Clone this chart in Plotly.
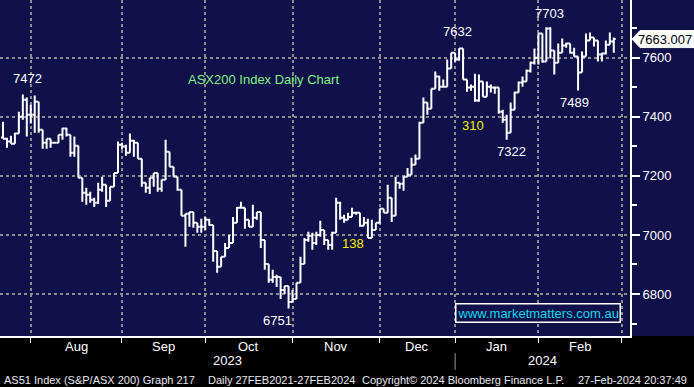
import pandas as pd
import plotly.graph_objects as go

# ---- data (ASX200 daily OHLC) ----
holidays = ["2023-12-25", "2023-12-26", "2024-01-01", "2024-01-26"]
all_days = pd.bdate_range("2023-07-21", "2024-03-01")
trade_days = [d for d in all_days if d.strftime("%Y-%m-%d") not in holidays]

opens = [7330, 7326, 7316, 7309, 7343, 7400, 7458, 7407, 7407, 7451,
         7356, 7312, 7326, 7312, 7312, 7339, 7360, 7339, 7278, 7302,
         7194, 7143, 7136, 7119, 7109, 7153, 7170, 7116, 7163, 7210,
         7305, 7299, 7278, 7319, 7312, 7258, 7177, 7160, 7194, 7210,
         7156, 7187, 7282, 7231, 7197, 7153, 7065, 7072, 7078, 7041,
         7028, 7028, 7051, 7034, 6946, 6892, 6926, 6956, 6973, 7041,
         7092, 7092, 7051, 7028, 7058, 7078, 6983, 6902, 6848, 6858,
         6858, 6814, 6827, 6773, 6783, 6838, 6902, 6983, 6997, 6973,
         7000, 7017, 6983, 6966, 7007, 7109, 7058, 7051, 7061, 7075,
         7075, 7031, 7041, 6990, 7017, 7041, 7089, 7075, 7126, 7065,
         7177, 7173, 7197, 7204, 7238, 7258, 7380, 7448, 7427, 7495,
         7536, 7502, 7502, 7563, 7617, 7594, 7631, 7526, 7499, 7502,
         7455, 7519, 7468, 7502, 7499, 7499, 7417, 7390, 7346, 7424,
         7482, 7516, 7519, 7556, 7583, 7600, 7682, 7587, 7699, 7624,
         7583, 7617, 7641, 7648, 7617, 7604, 7550, 7604, 7658, 7668,
         7658, 7611, 7614, 7644, 7655]
highs = [7383, 7329, 7336, 7346, 7417, 7475, 7465, 7441, 7472, 7451,
         7356, 7326, 7326, 7313, 7339, 7363, 7363, 7339, 7333, 7302,
         7194, 7160, 7146, 7126, 7177, 7197, 7170, 7163, 7210, 7316,
         7312, 7305, 7343, 7322, 7312, 7258, 7177, 7194, 7210, 7210,
         7187, 7322, 7282, 7231, 7197, 7153, 7072, 7078, 7078, 7041,
         7055, 7061, 7055, 7034, 6946, 6926, 6973, 7000, 7061, 7095,
         7112, 7092, 7051, 7102, 7078, 7078, 6983, 6902, 6882, 6865,
         6858, 6827, 6827, 6814, 6838, 6926, 6990, 7011, 7007, 7011,
         7048, 7017, 6983, 7011, 7126, 7112, 7068, 7075, 7092, 7078,
         7075, 7061, 7055, 7051, 7041, 7089, 7089, 7170, 7126, 7197,
         7177, 7197, 7227, 7261, 7272, 7383, 7465, 7448, 7495, 7553,
         7539, 7526, 7594, 7617, 7617, 7632, 7631, 7526, 7509, 7546,
         7543, 7519, 7519, 7509, 7502, 7499, 7424, 7407, 7448, 7485,
         7519, 7536, 7560, 7587, 7631, 7682, 7682, 7703, 7703, 7624,
         7648, 7665, 7651, 7648, 7634, 7604, 7621, 7682, 7685, 7668,
         7658, 7617, 7658, 7685, 7668]
lows = [7326, 7295, 7309, 7309, 7343, 7390, 7333, 7377, 7346, 7346,
        7292, 7292, 7295, 7309, 7312, 7322, 7333, 7265, 7265, 7194,
        7112, 7102, 7109, 7095, 7105, 7146, 7095, 7116, 7163, 7210,
        7289, 7268, 7278, 7265, 7258, 7163, 7143, 7139, 7163, 7146,
        7146, 7187, 7231, 7197, 7150, 7065, 6960, 7028, 7024, 7007,
        7007, 7017, 7031, 6909, 6872, 6892, 6926, 6956, 6973, 7041,
        7092, 7021, 7028, 7028, 7051, 6956, 6882, 6838, 6838, 6824,
        6783, 6800, 6751, 6773, 6783, 6838, 6902, 6977, 6950, 6966,
        6994, 6966, 6950, 6950, 7007, 7051, 7041, 7051, 7061, 7068,
        7028, 7031, 6990, 6990, 7017, 7038, 7075, 7075, 7044, 7065,
        7156, 7150, 7197, 7204, 7238, 7258, 7380, 7407, 7427, 7495,
        7488, 7502, 7502, 7563, 7587, 7590, 7526, 7485, 7488, 7451,
        7451, 7468, 7468, 7482, 7478, 7410, 7380, 7322, 7346, 7424,
        7482, 7502, 7519, 7550, 7577, 7577, 7583, 7587, 7597, 7543,
        7583, 7617, 7634, 7614, 7604, 7489, 7550, 7604, 7658, 7638,
        7587, 7587, 7611, 7644, 7617]
closes = [7326, 7316, 7309, 7343, 7400, 7458, 7407, 7407, 7451, 7356,
          7312, 7326, 7312, 7312, 7339, 7360, 7339, 7278, 7302, 7194,
          7143, 7136, 7119, 7109, 7153, 7170, 7116, 7163, 7210, 7305,
          7299, 7278, 7319, 7312, 7258, 7177, 7160, 7194, 7210, 7156,
          7187, 7282, 7231, 7197, 7153, 7065, 7072, 7078, 7041, 7028,
          7028, 7051, 7034, 6946, 6892, 6926, 6956, 6973, 7041, 7092,
          7092, 7051, 7028, 7058, 7078, 6983, 6902, 6848, 6858, 6858,
          6814, 6827, 6773, 6783, 6838, 6902, 6983, 6997, 6973, 7000,
          7017, 6983, 6966, 7007, 7109, 7058, 7051, 7061, 7075, 7075,
          7031, 7041, 6990, 7017, 7041, 7089, 7075, 7126, 7065, 7177,
          7173, 7197, 7204, 7238, 7258, 7380, 7448, 7427, 7495, 7536,
          7502, 7502, 7563, 7617, 7594, 7631, 7526, 7499, 7502, 7455,
          7519, 7468, 7502, 7499, 7499, 7417, 7390, 7346, 7424, 7482,
          7516, 7519, 7556, 7583, 7600, 7682, 7587, 7699, 7624, 7583,
          7617, 7641, 7648, 7617, 7604, 7550, 7604, 7658, 7668, 7658,
          7611, 7614, 7644, 7655, 7663.007]

month_names = ["Aug", "Sep", "Oct", "Nov", "Dec", "Jan", "Feb"]
year_labels = ["2023", "2024"]
y_ticks = [6800, 7000, 7200, 7400, 7600]

# labels on chart: (text, bar index of reference, price position, colour)
point_labels = [("7472", 6.3, 7528, "white"), ("7632", 114.5, 7687, "white"),
                ("7703", 137.9, 7751, "white"), ("7322", 128.3, 7281, "white"),
                ("7489", 144.2, 7447, "white"), ("6751", 69.1, 6712, "white"),
                ("138", 88.3, 6970, "#f2f200"), ("310", 118.5, 7369, "#f2f200")]

n = len(closes)
dates = trade_days[:n]
x_idx = list(range(n))

# first trading day of each month (index in trading-day calendar)
month_starts = []
prev = None
for i, d in enumerate(trade_days):
    if prev is not None and d.month != prev.month:
        month_starts.append(i)
    prev = d
# month_starts: Aug, Sep, Oct, Nov, Dec, Jan, Feb, Mar
x0r, x1r = -0.756, 158.09
y0r, y1r = 6657.9, 7795.3

NAVY = "#10104a"
GRID = "#8e8e8e"
FONT = "Liberation Sans, Arial, sans-serif"

fig = go.Figure()
fig.add_trace(go.Ohlc(
    x=x_idx, open=opens, high=highs, low=lows, close=closes,
    increasing=dict(line=dict(color="white", width=2)),
    decreasing=dict(line=dict(color="white", width=2)),
    tickwidth=0.5, showlegend=False, hoverinfo="skip"))

annotations = []
for txt, xi, yp, col in point_labels:
    annotations.append(dict(x=xi, y=yp, xref="x", yref="y", text=txt, showarrow=False,
                            xanchor="center", font=dict(family=FONT, size=13, color=col)))
annotations.append(dict(x=65.6, y=7525, xref="x", yref="y", text="ASX200 Index Daily Chart",
                        showarrow=False, xanchor="center",
                        font=dict(family=FONT, size=13, color="#82f082")))
# month labels centred in each month
for k, name in enumerate(month_names):
    mid = (month_starts[k] + month_starts[k + 1]) / 2
    annotations.append(dict(x=mid, y=-0.030, xref="x", yref="paper", text=name, showarrow=False,
                            xanchor="center", yanchor="middle",
                            font=dict(family=FONT, size=13, color="white")))
jan = month_starts[5]
annotations.append(dict(x=(x0r + jan) / 2, y=-0.074, xref="x", yref="paper", text=year_labels[0],
                        showarrow=False, xanchor="center", yanchor="middle",
                        font=dict(family=FONT, size=13, color="white")))
annotations.append(dict(x=(jan + x1r) / 2, y=-0.074, xref="x", yref="paper", text=year_labels[1],
                        showarrow=False, xanchor="center", yanchor="middle",
                        font=dict(family=FONT, size=13, color="white")))
# footer
footer = [("AS51 Index (S&P/ASX 200) Graph 217", 2), ("Daily 27FEB2021-27FEB2024", 206),
          ("Copyright© 2024 Bloomberg Finance L.P.", 360), ("27-Feb-2024 20:37:49", 576)]
for txt, px in footer:
    annotations.append(dict(x=px / 630, y=-0.131, xref="paper", yref="paper", text=txt, showarrow=False,
                            xanchor="left", yanchor="middle",
                            font=dict(family=FONT, size=11, color="#e8e8f0")))
# watermark
annotations.append(dict(x=538 / 630, y=0.068, xref="paper", yref="paper", text="www.marketmatters.com.au",
                        showarrow=False, xanchor="center", yanchor="middle",
                        font=dict(family=FONT, size=13, color="#19d9e6"),
                        bordercolor="white", borderwidth=1.5, borderpad=1, bgcolor=NAVY))
# last price tag
last = closes[-1]
last_p = (last - y0r) / (y1r - y0r)
annotations.append(dict(x=665 / 630, y=last_p, xref="paper", yref="paper", text=f"{last:.3f}",
                        showarrow=False, xanchor="center", yanchor="middle",
                        font=dict(family=FONT, size=13, color="black")))

half = 8.5 / 336
shapes = [
    dict(type="rect", xref="paper", yref="paper", x0=1, x1=694 / 630, y0=0, y1=1,
         fillcolor=NAVY, line=dict(width=0), layer="below"),
    dict(type="line", xref="x", yref="paper", x0=jan, x1=jan, y0=-0.051, y1=-0.101,
         line=dict(color="#9a9a9a", width=1)),
    dict(type="path", xref="paper", yref="paper",
         path=(f"M {632/630},{last_p} L {640/630},{last_p+half} L {694/630},{last_p+half} "
               f"L {694/630},{last_p-half} L {640/630},{last_p-half} Z"),
         fillcolor="white", line=dict(color="white", width=1), layer="above"),
]

fig.update_layout(
    width=694, height=387, margin=dict(l=0, r=64, t=0, b=51),
    paper_bgcolor="black", plot_bgcolor=NAVY,
    annotations=annotations, shapes=shapes, showlegend=False,
    xaxis=dict(range=[x0r, x1r], tickvals=month_starts, showticklabels=False,
               ticks="outside", ticklen=5, tickcolor="white", tickwidth=1,
               showgrid=True, gridcolor=GRID, gridwidth=2, griddash="dot",
               showline=True, linecolor="white", linewidth=2, zeroline=False,
               rangeslider=dict(visible=False), fixedrange=True),
    yaxis=dict(range=[y0r, y1r], side="right", tickvals=y_ticks,
               ticks="outside", ticklen=8, tickcolor="white", tickwidth=2,
               tickfont=dict(family=FONT, size=13, color="white"),
               minor=dict(dtick=100, tick0=6700, ticks="outside", ticklen=5, tickcolor="white", showgrid=False),
               showgrid=True, gridcolor=GRID, gridwidth=2, griddash="dot",
               showline=True, linecolor="white", linewidth=2, zeroline=False, fixedrange=True),
)

fig.write_html("out.html", config={"displayModeBar": False},
               post_script="document.body.style.margin='0';document.body.style.overflow='hidden';")
